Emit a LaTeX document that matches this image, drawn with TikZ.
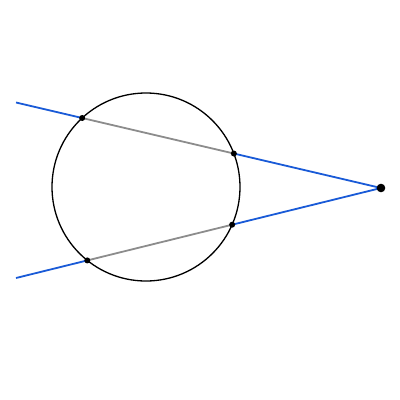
\documentclass[tikz,border=0pt]{standalone}
\usetikzlibrary{intersections}
\definecolor{lineblue}{RGB}{25,90,215}
\definecolor{chordgray}{RGB}{140,140,140}
\tikzset{
  secant/.style={draw=lineblue, line width=1.8pt},
  chord/.style={draw=chordgray, line width=1.8pt},
  circ/.style={draw=black, line width=1.3pt},
  dot/.style={fill=black},
}
\begin{document}
\begin{tikzpicture}[x=1pt,y=-1pt]
\useasboundingbox (0,0) rectangle (400,400);
\coordinate (C) at (146,187);
\coordinate (P) at (381,188);
\coordinate (U) at (16,102.5);
\coordinate (L) at (16,278);
\path[name path=circle] (C) circle[radius=94];
\path[name path=up] (U) -- (P);
\path[name path=lo] (L) -- (P);
\path[name intersections={of=circle and up, name=iu, sort by=up}];
\path[name intersections={of=circle and lo, name=il, sort by=lo}];
\draw[secant] (U) -- (iu-1);
\draw[secant] (iu-2) -- (P);
\draw[secant] (L) -- (il-1);
\draw[secant] (il-2) -- (P);
\draw[chord] (iu-1) -- (iu-2);
\draw[chord] (il-1) -- (il-2);
\draw[circ] (C) circle[radius=94];
\fill[dot] (iu-1) circle[radius=3];
\fill[dot] (iu-2) circle[radius=3];
\fill[dot] (il-1) circle[radius=3];
\fill[dot] (il-2) circle[radius=3];
\fill[dot] (P) circle[radius=4.3];
\end{tikzpicture}
\end{document}
